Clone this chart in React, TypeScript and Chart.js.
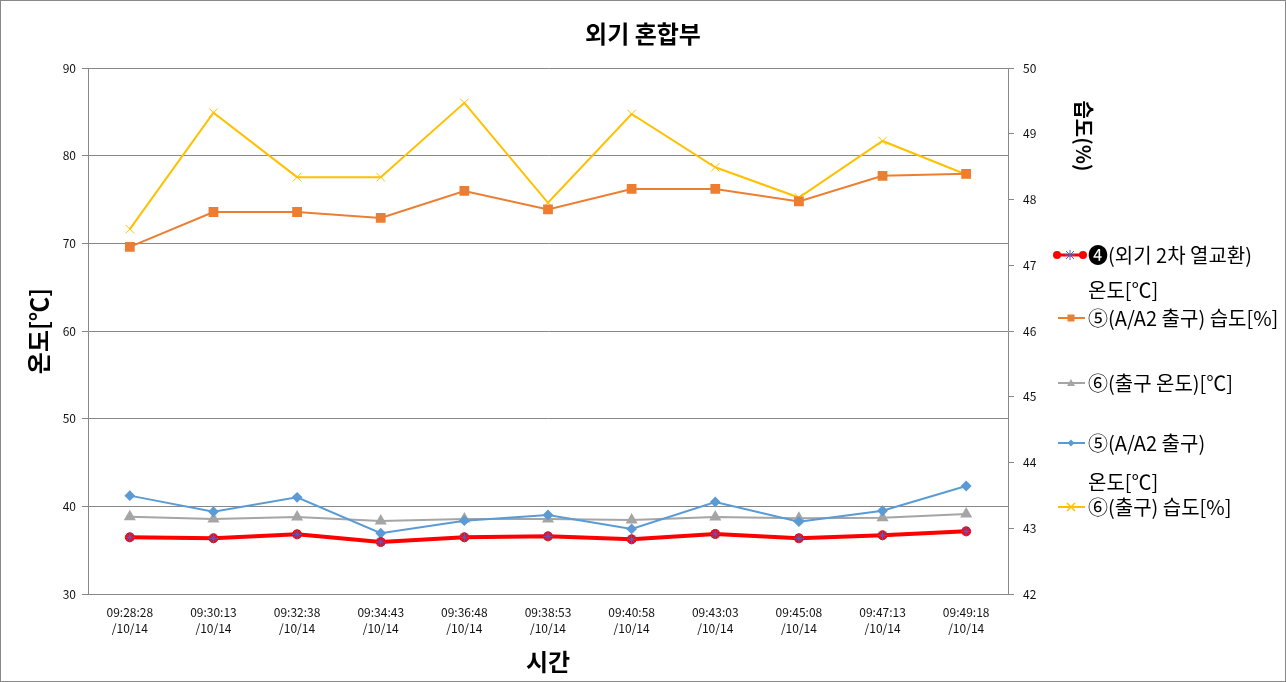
import React, { useEffect, useRef } from 'react';
import { Chart, registerables } from 'chart.js';

Chart.register(...registerables);

const timeLabels = ['09:28:28', '09:30:13', '09:32:38', '09:34:43', '09:36:48', '09:38:53', '09:40:58', '09:43:03', '09:45:08', '09:47:13', '09:49:18'];
const dateSuffix = '/10/14';

// left axis (temperature, ℃)
const heatExchTemp4 = [36.47, 36.36, 36.81, 35.93, 36.47, 36.58, 36.24, 36.85, 36.36, 36.70, 37.15];
const outletTemp6 = [38.82, 38.56, 38.79, 38.33, 38.56, 38.56, 38.44, 38.79, 38.64, 38.71, 39.13];
const a2Temp5 = [41.22, 39.39, 41.03, 36.93, 38.36, 39.01, 37.42, 40.50, 38.25, 39.50, 42.32];
// right axis (humidity, %)
const a2Humidity5 = [47.28, 47.81, 47.81, 47.72, 48.13, 47.85, 48.16, 48.16, 47.97, 48.36, 48.39];
const outletHumidity6 = [47.55, 49.32, 48.34, 48.34, 49.47, 47.95, 49.30, 48.49, 48.03, 48.89, 48.38];

const seriesNames = ['❹(외기 2차 열교환) 온도[℃]', '⑤(A/A2 출구) 습도[%]', '⑥(출구 온도)[℃]', '⑤(A/A2 출구) 온도[℃]', '⑥(출구) 습도[%]'];
const legendLines = [['❹(외기 2차 열교환)', '온도[℃]'], ['⑤(A/A2 출구) 습도[%]'], ['⑥(출구 온도)[℃]'], ['⑤(A/A2 출구)', '온도[℃]'], ['⑥(출구) 습도[%]']];

const chartTitle = '외기 혼합부';
const xTitle = '시간';
const yLeftTitle = '온도[℃]';
const yRightTitle = '습도(%)';

const RED = '#FF0000';
const STAR = '#5060C8';
const ORANGE = '#ED7D31';
const GRAY = '#A5A5A5';
const BLUE = '#5B9BD5';
const YELLOW = '#FFC000';
const AXIS = '#888888';
const FONT = '"Noto Sans CJK KR", "Noto Sans", sans-serif';

function drawMarker(ctx: CanvasRenderingContext2D, kind: string, x: number, y: number, color: string) {
  ctx.save();
  ctx.fillStyle = color;
  ctx.strokeStyle = color;
  ctx.lineWidth = 1.5;
  ctx.beginPath();
  if (kind === 'circle') {
    ctx.arc(x, y, 4, 0, Math.PI * 2);
    ctx.fill();
  } else if (kind === 'rect') {
    ctx.fillRect(x - 3.5, y - 3.5, 7, 7);
  } else if (kind === 'triangle') {
    ctx.moveTo(x, y - 4);
    ctx.lineTo(x + 4, y + 3);
    ctx.lineTo(x - 4, y + 3);
    ctx.closePath();
    ctx.fill();
  } else if (kind === 'diamond') {
    ctx.moveTo(x, y - 3.5);
    ctx.lineTo(x + 3.5, y);
    ctx.lineTo(x, y + 3.5);
    ctx.lineTo(x - 3.5, y);
    ctx.closePath();
    ctx.fill();
  } else if (kind === 'cross') {
    ctx.moveTo(x - 4, y - 4);
    ctx.lineTo(x + 4, y + 4);
    ctx.moveTo(x + 4, y - 4);
    ctx.lineTo(x - 4, y + 4);
    ctx.stroke();
  } else if (kind === 'star') {
    ctx.lineWidth = 1;
    ctx.moveTo(x - 4, y - 4);
    ctx.lineTo(x + 4, y + 4);
    ctx.moveTo(x + 4, y - 4);
    ctx.lineTo(x - 4, y + 4);
    ctx.moveTo(x, y - 5);
    ctx.lineTo(x, y + 5);
    ctx.moveTo(x - 5, y);
    ctx.lineTo(x + 5, y);
    ctx.stroke();
  }
  ctx.restore();
}

const legendLayout = [
  { color: RED, width: 3, marker: 'red', ys: [255, 290] },
  { color: ORANGE, width: 2, marker: 'rect', ys: [318] },
  { color: GRAY, width: 2, marker: 'triangle', ys: [383] },
  { color: BLUE, width: 2, marker: 'diamond', ys: [443, 482] },
  { color: YELLOW, width: 2, marker: 'cross', ys: [507] },
];

const decorPlugin = {
  id: 'decor',
  afterDraw(chart: any) {
    const ctx: CanvasRenderingContext2D = chart.ctx;
    ctx.save();
    // outer border
    ctx.strokeStyle = AXIS;
    ctx.lineWidth = 1;
    ctx.strokeRect(0.5, 0.5, chart.width - 1, chart.height - 1);
    // right axis title
    ctx.save();
    ctx.translate(1084, 136);
    ctx.rotate(Math.PI / 2);
    ctx.fillStyle = '#000';
    ctx.font = `bold 20px ${FONT}`;
    ctx.textAlign = 'center';
    ctx.textBaseline = 'middle';
    ctx.fillText(yRightTitle, 0, 0);
    ctx.restore();
    // legend
    legendLayout.forEach((item, i) => {
      const y0 = item.ys[0];
      ctx.save();
      ctx.strokeStyle = item.color;
      ctx.lineWidth = item.width;
      ctx.beginPath();
      ctx.moveTo(item.marker === 'red' ? 1057 : 1058, y0);
      ctx.lineTo(item.marker === 'red' ? 1083 : 1085, y0);
      ctx.stroke();
      ctx.restore();
      if (item.marker === 'red') {
        drawMarker(ctx, 'circle', 1057, y0, RED);
        drawMarker(ctx, 'circle', 1083, y0, RED);
        drawMarker(ctx, 'star', 1070, y0, STAR);
      } else {
        drawMarker(ctx, item.marker, 1071, y0, item.color);
      }
      ctx.fillStyle = '#000';
      ctx.font = `20px ${FONT}`;
      ctx.textAlign = 'left';
      ctx.textBaseline = 'middle';
      legendLines[i].forEach((line, j) => {
        ctx.fillText(line, 1088, item.ys[j]);
      });
    });
    ctx.restore();
  },
};

export default function App() {
  const ref = useRef<HTMLCanvasElement | null>(null);

  useEffect(() => {
    document.body.style.margin = '0';
    const canvas = ref.current;
    if (!canvas) return;
    const chart = new Chart(canvas, {
      type: 'line',
      data: {
        labels: timeLabels.map((t) => [t, dateSuffix]),
        datasets: [
          {
            label: seriesNames[0] + ' ✳',
            data: heatExchTemp4,
            yAxisID: 'yL',
            showLine: false,
            pointStyle: 'star',
            pointRadius: 5,
            borderColor: STAR,
            backgroundColor: STAR,
            pointBorderWidth: 1,
            order: 0,
          },
          {
            label: seriesNames[0],
            data: heatExchTemp4,
            yAxisID: 'yL',
            borderColor: RED,
            backgroundColor: RED,
            borderWidth: 4,
            pointStyle: 'circle',
            pointRadius: 4.5,
            pointBorderWidth: 1,
            pointBackgroundColor: RED,
            pointBorderColor: RED,
            order: 1,
          },
          {
            label: seriesNames[1],
            data: a2Humidity5,
            yAxisID: 'yR',
            borderColor: ORANGE,
            backgroundColor: ORANGE,
            borderWidth: 2,
            pointStyle: 'rect',
            pointRadius: 5.5,
            order: 5,
          },
          {
            label: seriesNames[2],
            data: outletTemp6,
            yAxisID: 'yL',
            borderColor: GRAY,
            backgroundColor: GRAY,
            borderWidth: 2,
            pointStyle: 'triangle',
            pointRadius: 5,
            order: 4,
          },
          {
            label: seriesNames[3],
            data: a2Temp5,
            yAxisID: 'yL',
            borderColor: BLUE,
            backgroundColor: BLUE,
            borderWidth: 2,
            pointStyle: 'rectRot',
            pointRadius: 4,
            order: 3,
          },
          {
            label: seriesNames[4],
            data: outletHumidity6,
            yAxisID: 'yR',
            borderColor: YELLOW,
            backgroundColor: YELLOW,
            borderWidth: 2,
            pointStyle: 'crossRot',
            pointRadius: 6,
            pointBorderWidth: 1,
            order: 6,
          },
        ],
      },
      options: {
        responsive: false,
        animation: false,
        layout: { padding: 0 },
        plugins: {
          legend: { display: false },
          tooltip: { enabled: false },
          title: {
            display: true,
            text: chartTitle,
            color: '#000',
            font: { family: FONT, size: 24, weight: 'bold' },
            padding: { top: 19.6, bottom: 19.6 },
          },
        },
        scales: {
          x: {
            offset: true,
            grid: { display: false, drawTicks: false },
            border: { display: true, color: AXIS },
            ticks: {
              color: '#111',
              font: { family: FONT, size: 12, lineHeight: 1.333 },
              padding: 10,
              maxRotation: 0,
              autoSkip: false,
            },
            title: {
              display: true,
              text: xTitle,
              color: '#000',
              font: { family: FONT, size: 24, weight: 'bold' },
              padding: { top: 0, bottom: 5.6 },
            },
            afterFit: (s: any) => {
              s.height = 88;
            },
          },
          yL: {
            position: 'left',
            min: 30,
            max: 90,
            ticks: { stepSize: 10, color: '#111', font: { family: FONT, size: 12 }, padding: 6 },
            grid: { color: AXIS, tickColor: AXIS, tickLength: 6 },
            border: { color: AXIS },
            title: {
              display: true,
              text: yLeftTitle,
              color: '#000',
              font: { family: FONT, size: 24, weight: 'bold' },
              padding: { top: 24.6, bottom: 0 },
            },
            afterFit: (s: any) => {
              s.width = 88;
            },
          },
          yR: {
            position: 'right',
            min: 42,
            max: 50,
            ticks: { stepSize: 1, color: '#111', font: { family: FONT, size: 12 }, padding: 9 },
            grid: { drawOnChartArea: false, color: AXIS, tickColor: AXIS, tickLength: 6 },
            border: { color: AXIS },
            afterFit: (s: any) => {
              s.width = 278;
            },
          },
        },
      },
      plugins: [decorPlugin],
    } as any);
    return () => chart.destroy();
  }, []);

  return (
    <div style={{ position: 'fixed', left: 0, top: 0, width: 1286, height: 682, background: '#fff' }}>
      <canvas ref={ref} width={1286} height={682} />
    </div>
  );
}
